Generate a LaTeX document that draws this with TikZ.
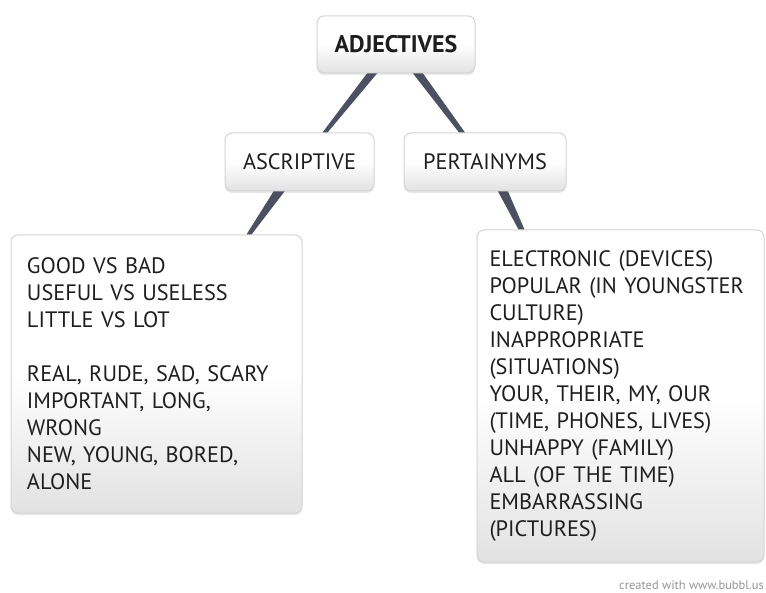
\documentclass[tikz,border=0pt]{standalone}
\usepackage{fontspec}
\usepackage{tikz}
\usetikzlibrary{calc,shadows}
\newfontfamily\mapfont{PT Sans}
\definecolor{linkcol}{RGB}{75,81,97}
\definecolor{boxline}{RGB}{212,212,212}
\definecolor{boxbottom}{RGB}{226,226,226}
\definecolor{inkcol}{RGB}{30,30,30}
\definecolor{creditcol}{RGB}{150,150,150}
\tikzset{
	bubble/.style={draw=boxline, line width=1pt, rounded corners=7pt, top color=white, bottom color=boxbottom, middle color=white, text=inkcol, inner sep=0pt, font=\mapfont\fontsize{22.3}{27}\selectfont, drop shadow={opacity=0.18, shadow xshift=0pt, shadow yshift=-2pt}},
	link/.style={fill=linkcol},
}

\begin{document}
\begin{tikzpicture}[x=1pt, y=-1pt]

	\useasboundingbox[fill=white] (0,0) rectangle (766,593);

	\node[bubble, font=\mapfont\bfseries\fontsize{24}{27}\selectfont, minimum width=158pt, minimum height=57pt] (adj) at (396,44.5) {ADJECTIVES};
	\node[bubble, minimum width=149pt, minimum height=58pt] (asc) at (299.5,162) {ASCRIPTIVE};
	\node[bubble, minimum width=162pt, minimum height=58pt] (per) at (485,162) {PERTAINYMS};

	\node[bubble, minimum width=291pt, minimum height=278pt, text width=259pt, align=left] (ascl) at (156.5,374) {GOOD VS BAD\\USEFUL VS USELESS\\LITTLE VS LOT\\[27pt]REAL, RUDE, SAD, SCARY\\IMPORTANT, LONG,\\WRONG\\NEW, YOUNG, BORED,\\ALONE};
	\node[bubble, minimum width=287pt, minimum height=332pt, text width=262pt, align=left] (perl) at (620.5,396) {ELECTRONIC (DEVICES)\\POPULAR (IN YOUNGSTER\\CULTURE)\\INAPPROPRIATE\\(SITUATIONS)\\YOUR, THEIR, MY, OUR\\(TIME, PHONES, LIVES)\\UNHAPPY (FAMILY)\\ALL (OF THE TIME)\\EMBARRASSING\\(PICTURES)};

	\fill[link] ([xshift=-29pt]adj.south) -- ([xshift=-19pt]adj.south) -- ([xshift=28pt]asc.north) -- ([xshift=23pt]asc.north) -- cycle;
	\fill[link] ([xshift=17pt]adj.south) -- ([xshift=27pt]adj.south) -- ([xshift=-20pt]per.north) -- ([xshift=-26pt]per.north) -- cycle;
	\fill[link] ([xshift=-26pt]asc.south) -- ([xshift=-15pt]asc.south) -- ([xshift=95pt]ascl.north) -- ([xshift=90pt]ascl.north) -- cycle;
	\fill[link] ([xshift=13pt]per.south) -- ([xshift=23pt]per.south) -- ([xshift=-96pt]perl.north) -- ([xshift=-102pt]perl.north) -- cycle;

	\node[anchor=base east, text=creditcol, font=\mapfont\fontsize{12.5}{15}\selectfont, inner sep=0pt] (credit) at (764,589) {created with www.bubbl.us};
\end{tikzpicture}
\end{document}
